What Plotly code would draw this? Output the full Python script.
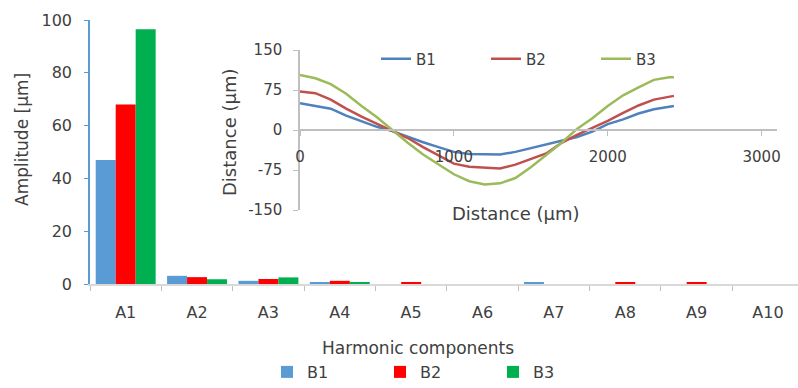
import plotly.graph_objects as go

# ---- Harmonic amplitudes (µm) per component ----
components = ["A1", "A2", "A3", "A4", "A5", "A6", "A7", "A8", "A9", "A10"]
amp_b1 = [47.0, 3.1, 1.2, 0.6, 0.0, 0.0, 0.6, 0.0, 0.0, 0.0]
amp_b2 = [68.0, 2.6, 1.9, 1.2, 0.6, 0.0, 0.0, 0.6, 0.6, 0.0]
amp_b3 = [96.5, 1.8, 2.5, 0.6, 0.0, 0.0, 0.0, 0.0, 0.0, 0.0]

# ---- Measured profiles (inset): distance along the sample vs. deviation, µm ----
distance_um = [0, 100, 200, 300, 400, 500, 600, 700, 800, 900, 1000, 1100, 1200,
               1300, 1400, 1500, 1600, 1700, 1800, 1900, 2000, 2100, 2200, 2300,
               2400, 2430]
profile_b1 = [50, 45, 40, 27, 16, 6, -2, -13, -23, -32, -41, -45, -46,
              -46, -41, -34, -26, -20, -13, -3, 11, 20, 31, 39, 43, 45]
profile_b2 = [72, 69, 57, 40, 25, 12, -1, -15, -32, -48, -63, -69, -71,
              -72, -65, -55, -44, -24, -9, 4, 17, 32, 46, 57, 62, 64]
profile_b3 = [103, 97, 86, 68, 45, 24, 0, -24, -46, -65, -83, -96, -102,
              -100, -90, -70, -47, -24, 2, 22, 45, 65, 80, 94, 99, 99]

inset_y_ticks = [-150, -75, 0, 75, 150]
inset_y_labels = ["-150", "-75", "0", "75", "150"]
inset_x_ticks = [0, 1000, 2000, 3000]
inset_x_labels = ["0", "1000", "2000", "3000"]

FONT = "DejaVu Sans"
TXT = "#404040"

# pixel helpers for the 798x388 canvas (plot area: x 90..798, y 20..284)
def px(x):
    return (x - 90) / 708


def py(y):
    return (284 - y) / 264


fig = go.Figure()

bar_series = [("B1", amp_b1, "#5B9BD5"), ("B2", amp_b2, "#FF0000"), ("B3", amp_b3, "#00B050")]
for name, vals, col in bar_series:
    fig.add_trace(go.Bar(x=components, y=vals, name=name,
                         marker=dict(color=col, line=dict(width=0)),
                         legend="legend"))

line_series = [("B1", profile_b1, "#4F81BD"), ("B2", profile_b2, "#C0504D"), ("B3", profile_b3, "#9BBB59")]
for name, vals, col in line_series:
    fig.add_trace(go.Scatter(x=distance_um, y=vals, name=name, mode="lines",
                             line=dict(color=col, width=2.5),
                             xaxis="x2", yaxis="y2", legend="legend2"))

fig.update_layout(
    width=798, height=388,
    margin=dict(l=90, r=0, t=20, b=104, autoexpand=False),
    paper_bgcolor="white", plot_bgcolor="rgba(0,0,0,0)",
    font=dict(family=FONT, size=16, color=TXT),
    barmode="group", bargap=0.16, bargroupgap=0,
    showlegend=True,
    xaxis=dict(type="category", range=[-0.5, 9.42],
               showline=True, linecolor="#D9D9D9", linewidth=1.5,
               ticks="outside", tickson="boundaries", ticklen=5, tickcolor="#BFBFBF",
               ticklabelstandoff=13,
               showgrid=False, tickfont=dict(size=16, color=TXT)),
    yaxis=dict(range=[0, 100], tickvals=[0, 20, 40, 60, 80, 100],
               showline=True, linecolor="#5B9BD5", linewidth=1.5,
               ticks="outside", ticklen=4, tickcolor="#5B9BD5",
               ticklabelstandoff=9,
               showgrid=False, zeroline=False, tickfont=dict(size=16, color=TXT)),
    xaxis2=dict(domain=[px(300), px(777)], anchor="free", position=py(130),
                range=[0, 3100], tickvals=inset_x_ticks, ticktext=inset_x_labels,
                showline=True, linecolor="#BFBFBF", linewidth=1.5,
                ticks="outside", ticklen=5, tickcolor="#BFBFBF",
                ticklabelstandoff=8,
                showgrid=False, zeroline=False, tickfont=dict(size=15, color=TXT)),
    yaxis2=dict(domain=[py(210), py(50)], anchor="x2",
                range=[-150, 150], tickvals=inset_y_ticks, ticktext=inset_y_labels,
                showline=True, linecolor="#BFBFBF", linewidth=1.5,
                ticks="outside", ticklen=5, tickcolor="#BFBFBF",
                ticklabelstandoff=8,
                showgrid=False, zeroline=False, tickfont=dict(size=15, color=TXT)),
    legend=dict(orientation="h", x=px(267), y=py(372),
                xanchor="left", yanchor="middle", entrywidth=68,
                font=dict(size=16, color=TXT), bgcolor="rgba(0,0,0,0)"),
    legend2=dict(orientation="h", x=px(376), y=py(59),
                 xanchor="left", yanchor="middle", entrywidth=65,
                 font=dict(size=15, color=TXT), bgcolor="rgba(0,0,0,0)"),
    annotations=[
        dict(text="Amplitude [µm]", x=px(22), y=py(140),
             xref="paper", yref="paper", textangle=-90, showarrow=False,
             xanchor="center", yanchor="middle", font=dict(size=17, color=TXT)),
        dict(text="Harmonic components", x=px(418), y=py(348),
             xref="paper", yref="paper", showarrow=False,
             xanchor="center", yanchor="middle", font=dict(size=17, color=TXT)),
        dict(text="Distance (µm)", x=px(229), y=py(133),
             xref="paper", yref="paper", textangle=-90, showarrow=False,
             xanchor="center", yanchor="middle", font=dict(size=18, color=TXT)),
        dict(text="Distance (µm)", x=px(515), y=py(213),
             xref="paper", yref="paper", showarrow=False,
             xanchor="center", yanchor="middle", font=dict(size=18, color=TXT)),
    ],
)

fig.write_html("out.html")
